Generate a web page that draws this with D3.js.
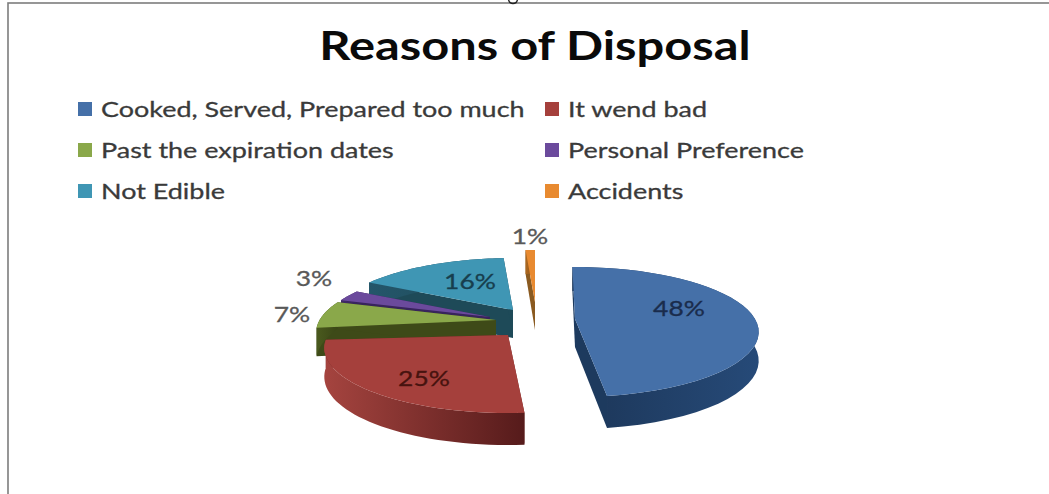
<!DOCTYPE html>
<html>
<head>
<meta charset="utf-8">
<script src="https://cdn.jsdelivr.net/npm/d3@7"></script>
<style>
  html, body { margin: 0; padding: 0; background: #fff; }
  svg { display: block; }
  text { font-family: Lato, "Noto Sans", sans-serif; }
</style>
</head>
<body>
<svg id="chart" width="1049" height="494"></svg>
<script>
// Chart content
const chartTitle = "Reasons of Disposal";
const categories = ["Cooked, Served, Prepared too much", "It wend bad", "Past the expiration dates",
                    "Personal Preference", "Not Edible", "Accidents"];
const shares = [48, 25, 7, 3, 16, 1];
const topColors = ["#4570a8", "#a5403c", "#8aa84a", "#6b4a9c", "#3f96b4", "#e88a30"];
const wallColors = ["#1d3a5e", "#6e2725", "#3e4a18", "#38245c", "#1e4a58", "#8a5a20"];
const rimStart = ["#1c3658", "#a5443f", "#4a5a1e", "#40286a", "#24566a", "#b06a20"];
const rimEnd = ["#264a78", "#561b1b", "#3a4616", "#38245c", "#1e4a58", "#7a4a1a"];
const labelColors = ["#1a2c4c", "#47130f", "#595959", "#595959", "#173e4e", "#595959"];

// Layout: where each exploded slice's centre sits, its small turn in degrees,
// its radius relative to the disc, and where its percentage goes
const apexes = [[575, 319], [508, 335], [496, 320], [490, 317], [513, 310], [535, 302]];
const turns = [-1, 3, 0, 0, 0, 0];
const reach = [1, 1, 0.98, 0.92, 1, 1];
const labelSpots = [[679, 316], [424, 386], [292, 322], [314, 286], [470, 289], [530, 244]];
const RX = 180, RY = 62.4, TILT = 0.2;

const svg = d3.select("#chart");
const defs = svg.append("defs");

// Page frame around the chart, and the tail of a cut-off caption above it
svg.append("rect").attr("x", 8).attr("y", 3).attr("width", 1060).attr("height", 520)
  .attr("fill", "#fff").attr("stroke", "#7d7d7d").attr("stroke-width", 1.6);
const tail = d3.path();
tail.arc(513, -1, 4.5, 0.2, Math.PI - 0.2);
svg.append("path").attr("d", tail.toString()).attr("fill", "none").attr("stroke", "#222").attr("stroke-width", 1.4);

// Stretch a label horizontally by a constant factor
function stretched(sel, k) {
  sel.each(function () {
    const len = this.getComputedTextLength();
    d3.select(this).attr("textLength", len * k).attr("lengthAdjust", "spacingAndGlyphs");
  });
  return sel;
}

// Title
svg.append("text").attr("x", 535).attr("y", 60).attr("text-anchor", "middle")
  .attr("font-size", 40).attr("font-weight", 700).attr("fill", "#0a0a0a")
  .text(chartTitle).call(stretched, 1.22);

// Legend: two columns, three rows, filled row by row
const legendX = d3.scalePoint().domain([0, 1]).range([78, 545]);
const legendY = d3.scalePoint().domain([0, 1, 2]).range([109, 191]);
const legend = svg.append("g").selectAll("g").data(categories).join("g")
  .attr("transform", (d, i) => `translate(${legendX(i % 2)},${legendY(Math.floor(i / 2))})`);
legend.append("rect").attr("y", -7).attr("width", 14).attr("height", 14)
  .attr("fill", (d, i) => topColors[i]);
legend.append("text").attr("x", 23).attr("y", 7.5).attr("font-size", 22).attr("fill", "#3a3a3a")
  .attr("stroke", "#3a3a3a").attr("stroke-width", 0.3)
  .text(d => d).call(stretched, 1.225);

// Slice angles from the pie layout, starting at twelve o'clock and running clockwise
const slices = d3.pie().sort(null).startAngle(0).endAngle(2 * Math.PI)(shares);

// Perspective projection of a point on the tilted disc, relative to a slice's centre
function project(angle, r) {
  const x = Math.sin(angle) * r, v = -Math.cos(angle) * r;
  const s = 1 / (1 - TILT * v);
  return { x: x * RX * s, y: v * RY * s, v };
}
const depthAt = v => 28 + 4 * v;
const line = d3.line().x(d => d[0]).y(d => d[1]);

function rimPoints(d, i) {
  const apex = apexes[i], turn = turns[i] * Math.PI / 180;
  return d3.range(0, 41).map(k => {
    const a = d.startAngle + turn + (d.endAngle - d.startAngle) * k / 40;
    const p = project(a, reach[i]);
    return { x: apex[0] + p.x, y: apex[1] + p.y, v: p.v };
  });
}

// Paint from the back of the pie to the front so nearer slices cover farther ones
const paintOrder = [5, 4, 3, 2, 1, 0];
const pieLayer = svg.append("g");
paintOrder.forEach(i => {
  const d = slices[i], apex = apexes[i];
  const rim = rimPoints(d, i);
  const g = pieLayer.append("g");

  const grad = defs.append("linearGradient").attr("id", "rim" + i);
  grad.append("stop").attr("offset", 0).attr("stop-color", rimStart[i]);
  grad.append("stop").attr("offset", 1).attr("stop-color", rimEnd[i]);

  // Cut faces, dropped from the two radial edges
  const apexDepth = depthAt(0);
  [rim[0], rim[rim.length - 1]].forEach(p => {
    g.append("path").attr("fill", wallColors[i]).attr("d", line([
      apex, [p.x, p.y], [p.x, p.y + depthAt(p.v)], [apex[0], apex[1] + apexDepth]
    ]) + "Z");
  });

  // Curved outer wall
  const rimTop = rim.map(p => [p.x, p.y]);
  const rimBottom = rim.map(p => [p.x, p.y + depthAt(p.v)]).reverse();
  g.append("path").attr("fill", `url(#rim${i})`).attr("d", line(rimTop.concat(rimBottom)) + "Z");

  // Top face
  g.append("path").attr("fill", topColors[i]).attr("d", line([apex].concat(rimTop)) + "Z");
});

// Percentage labels
svg.append("g").selectAll("text").data(shares).join("text")
  .attr("x", (d, i) => labelSpots[i][0]).attr("y", (d, i) => labelSpots[i][1])
  .attr("text-anchor", "middle").attr("font-size", 22)
  .attr("fill", (d, i) => labelColors[i])
  .attr("stroke", (d, i) => labelColors[i]).attr("stroke-width", 0.3)
  .text(d => d + "%").call(stretched, 1.2);
</script>
</body>
</html>
